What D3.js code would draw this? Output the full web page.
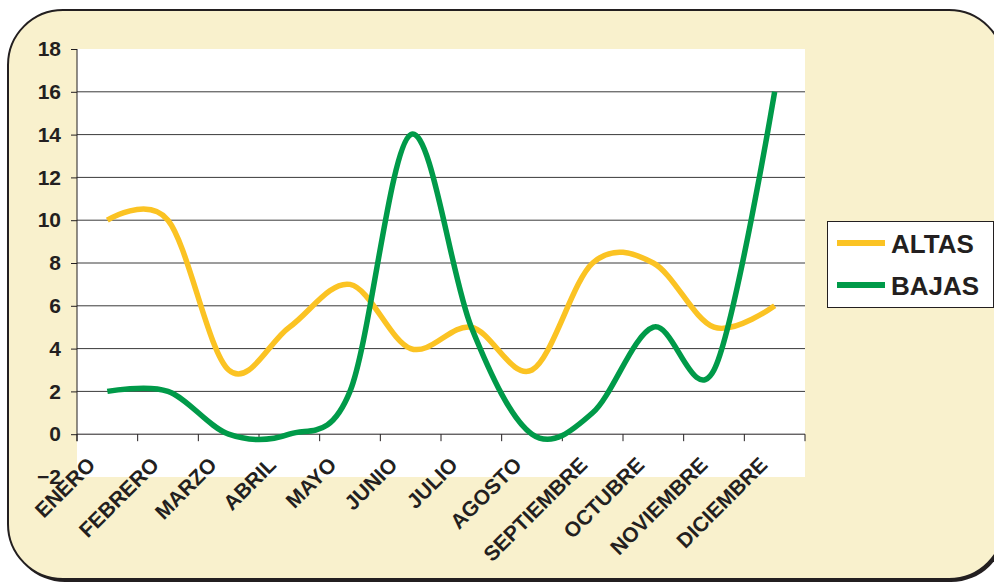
<!DOCTYPE html>
<html>
<head>
<meta charset="utf-8">
<script src="https://cdn.jsdelivr.net/npm/d3@7"></script>
<style>
  body { margin: 0; background: #fff; }
  svg { display: block; }
  text { font-family: "Liberation Sans", Arial, sans-serif; font-weight: bold; fill: #231f20; }
</style>
</head>
<body>
<div id="chart"></div>
<script>
// months on the category axis
var months = ["ENERO", "FEBRERO", "MARZO", "ABRIL", "MAYO", "JUNIO",
              "JULIO", "AGOSTO", "SEPTIEMBRE", "OCTUBRE", "NOVIEMBRE", "DICIEMBRE"];

// values
var altas = [10, 10, 3, 5, 7, 4, 5, 3, 8, 8, 5, 6];
var bajas = [2, 2, 0, 0, 2, 14, 5, 0, 1, 5, 3, 16];

var yTicks = [-2, 0, 2, 4, 6, 8, 10, 12, 14, 16, 18];

var seriesNames = ["ALTAS", "BAJAS"];
var seriesColors = ["#fbc323", "#009a49"];

var W = 994, H = 583;
var plot = { left: 77, right: 805, top: 49, bottom: 477 };

var svg = d3.select("#chart").append("svg")
    .attr("width", W)
    .attr("height", H);

// frame with a dark shadow
svg.append("rect")
    .attr("x", 10).attr("y", 12)
    .attr("width", 996).attr("height", 570)
    .attr("rx", 55).attr("ry", 55)
    .attr("fill", "#231f20");
svg.append("rect")
    .attr("x", 8).attr("y", 10)
    .attr("width", 996).attr("height", 569)
    .attr("rx", 55).attr("ry", 55)
    .attr("fill", "#f9f1cd")
    .attr("stroke", "#231f20")
    .attr("stroke-width", 2);

var x = d3.scaleBand()
    .domain(months)
    .range([plot.left, plot.right]);

var y = d3.scaleLinear()
    .domain([-2, 18])
    .range([plot.bottom, plot.top]);

function cx(m) {
    return x(m) + x.bandwidth() / 2;
}

// plot area
svg.append("rect")
    .attr("x", plot.left).attr("y", plot.top)
    .attr("width", plot.right - plot.left)
    .attr("height", plot.bottom - plot.top)
    .attr("fill", "#fff");

// gridlines
svg.append("g").selectAll("line")
    .data(yTicks.filter(function(d) { return d > 0 && d < 18; }))
    .enter().append("line")
    .attr("x1", plot.left).attr("x2", plot.right)
    .attr("y1", function(d) { return y(d); })
    .attr("y2", function(d) { return y(d); })
    .attr("stroke", "#3a3a3a")
    .attr("stroke-width", 1);

// y axis
var yAxis = svg.append("g")
    .attr("transform", "translate(" + plot.left + ",0)")
    .call(d3.axisLeft(y).tickValues(yTicks).tickSize(6).tickPadding(10));
yAxis.select(".domain").remove();
yAxis.selectAll(".tick line").attr("stroke", "#231f20")
    .attr("display", function(d) { return d < 0 ? "none" : null; });
yAxis.selectAll(".tick text")
    .attr("font-size", 21)
    .attr("font-family", "Liberation Sans, Arial, sans-serif")
    .attr("font-weight", "bold")
    .attr("fill", "#231f20");
svg.append("line")
    .attr("x1", plot.left).attr("x2", plot.left)
    .attr("y1", plot.top).attr("y2", y(0) + 7)
    .attr("stroke", "#231f20");

// x axis at zero
svg.append("line")
    .attr("x1", plot.left).attr("x2", plot.right)
    .attr("y1", y(0)).attr("y2", y(0))
    .attr("stroke", "#231f20");
var bounds = months.map(function(m) { return x(m); }).concat([plot.right]);
svg.append("g").selectAll("line")
    .data(bounds)
    .enter().append("line")
    .attr("x1", function(d) { return d; })
    .attr("x2", function(d) { return d; })
    .attr("y1", y(0)).attr("y2", y(0) + 7)
    .attr("stroke", "#231f20");

// category labels, longer ones sit a little further right
svg.append("g").selectAll("text")
    .data(months)
    .enter().append("text")
    .attr("text-anchor", "end")
    .attr("font-size", 21)
    .text(function(d) { return d; })
    .attr("transform", function(d) {
        var len = this.getComputedTextLength();
        return "translate(" + (cx(d) - 19 + 0.11 * len) + "," + (y(0) + 32) + ") rotate(-45)";
    });

// series lines
var line = d3.line()
    .x(function(d, i) { return cx(months[i]); })
    .y(function(d) { return y(d); })
    .curve(d3.curveCardinal.tension(0));

[altas, bajas].forEach(function(values, i) {
    svg.append("path")
        .datum(values)
        .attr("d", line)
        .attr("fill", "none")
        .attr("stroke", seriesColors[i])
        .attr("stroke-width", 5.5)
        .attr("stroke-linejoin", "round");
});

// legend
var legend = svg.append("g");
legend.append("rect")
    .attr("x", 827.5).attr("y", 221.5)
    .attr("width", 166).attr("height", 86)
    .attr("fill", "#fff")
    .attr("stroke", "#231f20");
seriesNames.forEach(function(name, i) {
    var ly = 243 + i * 42;
    legend.append("line")
        .attr("x1", 837).attr("x2", 885)
        .attr("y1", ly).attr("y2", ly)
        .attr("stroke", seriesColors[i])
        .attr("stroke-width", 6);
    legend.append("text")
        .attr("x", 891).attr("y", ly + 10)
        .attr("font-size", 26)
        .text(name);
});
</script>
</body>
</html>
